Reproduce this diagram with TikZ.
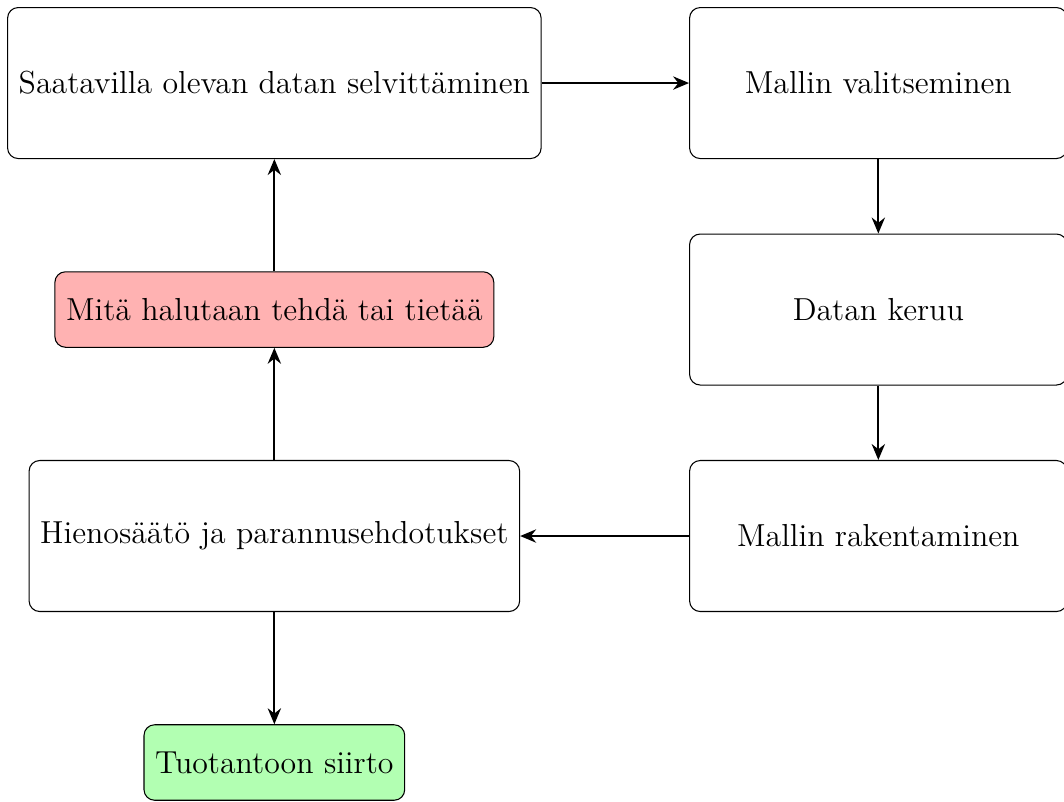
\documentclass[tikz,border=0pt]{standalone}
\usetikzlibrary{arrows.meta}
\begin{document}
\begin{tikzpicture}[
  stage/.style={draw, rounded corners, font=\large, align=center, inner sep=4.2pt,
                minimum width=5cm, minimum height=2cm},
  endpoint/.style={draw, rounded corners, font=\large, align=center, inner sep=4.2pt,
                minimum height=1cm},
  flow/.style={-{Stealth[length=6pt,width=5pt]}, thick}
]
\useasboundingbox (-103.4pt,31.3pt) rectangle (297.6pt,-270.6pt);

\node[stage] (data)   at (0,0)      {Saatavilla olevan datan selvittäminen};
\node[stage] (malli)  at (8cm,0)    {Mallin valitseminen};
\node[stage] (keruu)  at (8cm,-3cm) {Datan keruu};
\node[stage] (rak)    at (8cm,-6cm) {Mallin rakentaminen};
\node[stage] (hieno)  at (0,-6cm)   {Hienosäätö ja parannusehdotukset};
\node[endpoint, fill=red!30]   (tavoite) at (0,-3cm) {Mitä halutaan tehdä tai tietää};
\node[endpoint, fill=green!30] (tuotanto) at (0,-9cm) {Tuotantoon siirto};

\draw[flow] (data) -- (malli);
\draw[flow] (malli) -- (keruu);
\draw[flow] (keruu) -- (rak);
\draw[flow] (rak) -- (hieno);
\draw[flow] (hieno) -- (tavoite);
\draw[flow] (tavoite) -- (data);
\draw[flow] (hieno) -- (tuotanto);
\end{tikzpicture}
\end{document}
